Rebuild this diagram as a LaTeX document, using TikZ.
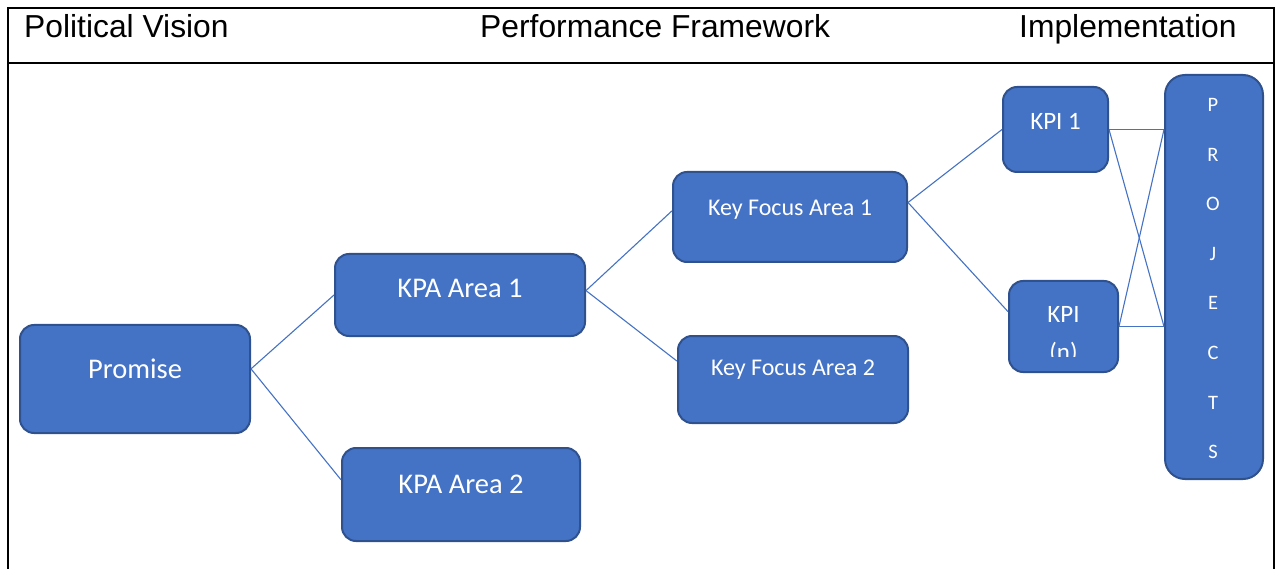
\documentclass[tikz,border=0pt]{standalone}
\usepackage{fontspec}
\setmainfont{Liberation Sans}
\newfontfamily\carlito{Carlito}
\definecolor{boxfill}{HTML}{4472C4}
\definecolor{boxline}{HTML}{2F528F}

\begin{document}
\begin{tikzpicture}[x=1pt,y=-1pt,
  box/.style={rectangle,rounded corners=14pt,draw=boxline,fill=boxfill,line width=2pt,text=white,inner sep=0pt},
  link/.style={draw=boxfill,line width=1.1pt},
  head/.style={anchor=base west,inner sep=0pt,font=\fontsize{31.8}{36}\selectfont},
  bigtext/.style={font=\carlito\fontsize{28.5}{34}\selectfont},
  midtext/.style={font=\carlito\fontsize{24}{29}\selectfont},
  kpitext/.style={font=\carlito\fontsize{25}{30}\selectfont,text=white,inner sep=0pt},
  letter/.style={font=\carlito\fontsize{20.5}{24}\selectfont,text=white,inner sep=0pt}]
\useasboundingbox (0,0) rectangle (1277,569);

% table frame
\draw[line width=2.5pt] (8,569) -- (8,8) -- (1274,8) -- (1274,569);
\draw[line width=2.5pt] (8,63) -- (1274,63);
\node[head] (vision) at (24,38) {Political Vision};
\node[head] (framework) at (480,38) {Performance Framework};
\node[head] (implement) at (1019,38) {Implementation};

% boxes
\node[box,bigtext,minimum width=230pt,minimum height=108pt,text depth=21pt] (promise) at (135,379) {Promise};
\node[box,bigtext,minimum width=250pt,minimum height=82pt,text depth=13pt] (kpa1) at (460,295) {KPA Area 1};
\node[box,bigtext,minimum width=238pt,minimum height=93pt,text depth=20pt] (kpa2) at (461,494.5) {KPA Area 2};
\node[box,midtext,minimum width=234pt,minimum height=90pt,text depth=19pt] (kfa1) at (790,217) {Key Focus Area 1};
\node[box,midtext,minimum width=230pt,minimum height=87pt,text depth=23pt] (kfa2) at (793,379.5) {Key Focus Area 2};
\node[box,kpitext,minimum width=105pt,minimum height=85pt,text depth=17pt] (kpi1) at (1055.5,129.5) {KPI 1};
\node[box,minimum width=109pt,minimum height=91pt] (kpin) at (1063.5,326.5) {};
\begin{scope}
\clip (1009,282) rectangle (1118,356);
\node[kpitext,anchor=base] (kpintop) at (1063.5,323) {KPI};
\node[kpitext,anchor=base] (kpinsub) at (1063.5,360) {(n)};
\end{scope}
\node[box,rounded corners=20pt,minimum width=98pt,minimum height=404pt] (projects) at (1214,277) {};
\foreach \l [count=\i from 0] in {P,R,O,J,E,C,T,S}
  \node[letter,anchor=base] (proj\i) at (1213,111.5+49.6*\i) {\l};

% connectors
\draw[link] (promise.5) -- (kpa1.west);
\draw[link] (promise.5) -- (kpa2.173);
\draw[link] (kpa1.2) -- (kfa1.177);
\draw[link] (kpa1.2) -- (kfa2.171);
\draw[link] (kfa1.7) -- (kpi1.west);
\draw[link] (kfa1.7) -- (kpin.165);
\draw[link] (kpi1.east) -- (projects.west |- kpi1.east);
\draw[link] (kpi1.east) -- (projects.west |- kpin.east);
\draw[link] (kpin.east) -- (projects.west |- kpi1.east);
\draw[link] (kpin.east) -- (projects.west |- kpin.east);
\end{tikzpicture}
\end{document}
